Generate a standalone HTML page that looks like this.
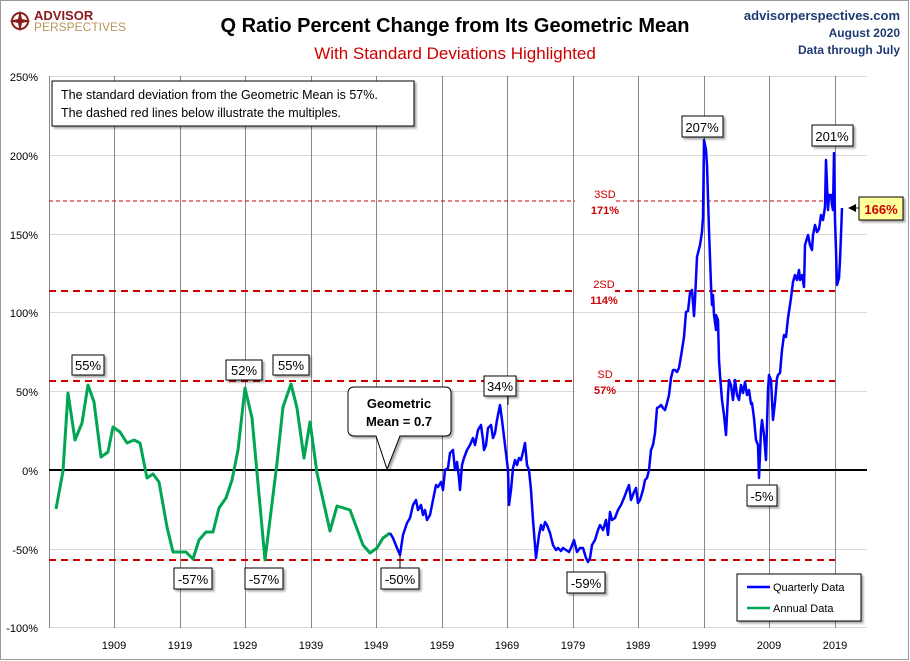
<!DOCTYPE html>
<html><head><meta charset="utf-8"><style>
body{margin:0;background:#fff;}
svg{display:block;font-family:"Liberation Sans",sans-serif;}
</style></head><body>
<svg width="910" height="661" viewBox="0 0 910 661">
<defs><filter id="sh" x="-20%" y="-20%" width="150%" height="150%"><feDropShadow dx="2" dy="2" stdDeviation="1" flood-color="#000" flood-opacity="0.35"/></filter></defs>
<rect x="0.5" y="0.5" width="908" height="659" fill="#fff" stroke="#999"/>
<circle cx="20" cy="21" r="8" fill="none" stroke="#8b1a1a" stroke-width="2"/>
<path d="M20 10 L22 19 L31 21 L22 23 L20 32 L18 23 L9 21 L18 19Z" fill="#8b1a1a"/>
<text x="34" y="20" font-size="13" font-weight="bold" fill="#8b1a1a">ADVISOR</text>
<text x="34" y="31" font-size="12" fill="#b8985a">PERSPECTIVES</text>
<text x="455" y="32" font-size="20" font-weight="bold" text-anchor="middle" fill="#000">Q Ratio Percent Change from Its Geometric Mean</text>
<text x="455" y="59" font-size="17" text-anchor="middle" fill="#d00000">With Standard Deviations Highlighted</text>
<text x="900" y="20" font-size="13" font-weight="bold" text-anchor="end" fill="#1f3b73">advisorperspectives.com</text>
<text x="900" y="37" font-size="12" font-weight="bold" text-anchor="end" fill="#1f3b73">August 2020</text>
<text x="900" y="54" font-size="12" font-weight="bold" text-anchor="end" fill="#1f3b73">Data through July</text>
<g stroke="#d9d9d9" stroke-width="1">
<line x1="49" x2="867" y1="76.5" y2="76.5"/><line x1="49" x2="867" y1="155.5" y2="155.5"/><line x1="49" x2="867" y1="234.5" y2="234.5"/><line x1="49" x2="867" y1="312.5" y2="312.5"/><line x1="49" x2="867" y1="391.5" y2="391.5"/><line x1="49" x2="867" y1="549.5" y2="549.5"/><line x1="49" x2="867" y1="627.5" y2="627.5"/>
</g>
<g stroke="#888" stroke-width="1">
<line x1="114.5" x2="114.5" y1="76" y2="628"/><line x1="180.5" x2="180.5" y1="76" y2="628"/><line x1="245.5" x2="245.5" y1="76" y2="628"/><line x1="311.5" x2="311.5" y1="76" y2="628"/><line x1="376.5" x2="376.5" y1="76" y2="628"/><line x1="442.5" x2="442.5" y1="76" y2="628"/><line x1="507.5" x2="507.5" y1="76" y2="628"/><line x1="573.5" x2="573.5" y1="76" y2="628"/><line x1="638.5" x2="638.5" y1="76" y2="628"/><line x1="704.5" x2="704.5" y1="76" y2="628"/><line x1="769.5" x2="769.5" y1="76" y2="628"/><line x1="835.5" x2="835.5" y1="76" y2="628"/>
<line x1="49.5" x2="49.5" y1="76" y2="628"/>
</g>
<g font-size="11" fill="#000" text-anchor="end">
<text x="38" y="81">250%</text><text x="38" y="160">200%</text><text x="38" y="239">150%</text><text x="38" y="317">100%</text><text x="38" y="396">50%</text><text x="38" y="475">0%</text><text x="38" y="554">-50%</text><text x="38" y="632">-100%</text>
</g>
<g font-size="11" fill="#000" text-anchor="middle">
<text x="114" y="649">1909</text><text x="180" y="649">1919</text><text x="245" y="649">1929</text><text x="311" y="649">1939</text><text x="376" y="649">1949</text><text x="442" y="649">1959</text><text x="507" y="649">1969</text><text x="573" y="649">1979</text><text x="638" y="649">1989</text><text x="704" y="649">1999</text><text x="769" y="649">2009</text><text x="835" y="649">2019</text>
</g>
<g stroke="#cc0000" stroke-width="2" stroke-dasharray="7,5">
<line x1="49" x2="835" y1="201" y2="201" stroke-width="1" stroke-dasharray="4,3"/>
<line x1="49" x2="835" y1="291" y2="291"/>
<line x1="49" x2="835" y1="381" y2="381"/>
<line x1="49" x2="835" y1="560" y2="560"/>
</g>
<g fill="#fff"><rect x="575" y="186" width="40" height="32"/><rect x="575" y="276" width="40" height="32"/><rect x="575" y="366" width="40" height="32"/></g>
<g font-size="11" fill="#cc0000" text-anchor="middle" font-weight="bold">
<text x="605" y="198" font-weight="normal">3SD</text><text x="605" y="214">171%</text>
<text x="604" y="288" font-weight="normal">2SD</text><text x="604" y="304">114%</text>
<text x="605" y="378" font-weight="normal">SD</text><text x="605" y="394">57%</text>
</g>
<line x1="49" x2="867" y1="470" y2="470" stroke="#000" stroke-width="2"/>
<polyline fill="none" stroke="#00a651" stroke-width="3" stroke-linejoin="round" points="56,509 63,471 68,393 75,440 82,423 88,385 94,402 101,457 108,452 113,427 120,432 127,443 134,440 140,443 147,478 153,474 159,482 167,527 173,552 186,552 193,559 199,540 206,532 213,532 219,508 226,498 232,480 238,450 245,388 252,418 265,560 277,463 283,407 291,384 297,408 304,458 310,422 317,473 330,531 337,506 350,510 363,545 370,553 377,548 383,538 390,533"/>
<polyline fill="none" stroke="#0000ff" stroke-width="2.5" stroke-linejoin="round" points="390,533 393,538 397,548 400,555 403,535 407,523 410,518 413,505 416,500 418,510 421,505 423,515 425,510 427,520 430,515 433,500 436,485 438,487 441,482 443,490 445,470 448,468 450,453 453,450 455,470 457,462 459,478 460,490 462,465 464,458 467,450 470,445 473,438 475,445 478,430 481,425 483,440 484,450 486,445 488,428 491,425 493,438 495,433 497,420 500,405 502,420 505,445 508,470 509,505 511,490 513,468 515,460 517,465 519,458 521,460 523,452 525,443 527,465 529,470 531,490 533,520 536,558 539,535 541,525 543,530 545,522 547,525 550,533 553,545 556,550 558,548 561,551 563,548 566,550 569,552 571,548 574,540 577,552 580,548 583,548 586,558 588,562 590,558 592,545 595,540 598,530 600,525 603,530 606,520 608,535 610,512 612,520 615,518 618,510 621,505 624,498 627,490 629,485 631,500 634,492 636,488 638,503 640,500 643,490 645,480 647,478 649,470 651,450 653,445 655,433 657,408 659,407 661,405 663,408 665,410 667,403 669,395 671,378 673,370 675,370 677,372 679,368 682,350 684,337 686,312 688,311 690,293 692,290 694,316 695,300 697,257 700,245 702,232 703,217 704,140 706,150 707,165 709,230 711,285 712,305 713,295 714,315 716,330 716,315 718,320 719,360 720,375 722,400 724,415 726,435 728,395 729,380 731,385 733,400 735,380 737,395 739,400 741,385 743,393 745,382 747,395 749,390 751,404 752,403 754,418 756,440 758,445 759,478 761,430 762,420 764,435 766,460 768,390 769,375 771,380 773,420 775,402 777,378 778,375 780,373 782,350 784,335 786,337 788,318 790,305 791,298 793,282 795,275 797,280 799,270 800,280 802,275 804,287 805,245 808,235 810,245 812,250 813,235 815,225 817,232 819,229 821,215 823,220 825,207 826,160 828,210 829,195 831,195 832,205 833,210 834,153 835,220 836,250 837,285 839,278 840,260 841,235 842,208"/>
<g font-size="13" fill="#000" text-anchor="middle">
<rect x="72" y="355" width="32" height="20" fill="#fff" stroke="#000" filter="url(#sh)"/><text x="88" y="370">55%</text>
<rect x="226" y="360" width="36" height="20" fill="#fff" stroke="#000" filter="url(#sh)"/><text x="244" y="375">52%</text>
<rect x="273" y="355" width="36" height="20" fill="#fff" stroke="#000" filter="url(#sh)"/><text x="291" y="370">55%</text>
<rect x="174" y="568" width="38" height="21" fill="#fff" stroke="#000" filter="url(#sh)"/><text x="193" y="584">-57%</text>
<rect x="245" y="568" width="38" height="21" fill="#fff" stroke="#000" filter="url(#sh)"/><text x="264" y="584">-57%</text>
<rect x="381" y="568" width="38" height="21" fill="#fff" stroke="#000" filter="url(#sh)"/><text x="400" y="584">-50%</text>
<rect x="484" y="376" width="32" height="20" fill="#fff" stroke="#000" filter="url(#sh)"/><text x="500" y="391">34%</text>
<rect x="567" y="572" width="38" height="21" fill="#fff" stroke="#000" filter="url(#sh)"/><text x="586" y="588">-59%</text>
<rect x="682" y="116" width="41" height="21" fill="#fff" stroke="#000" filter="url(#sh)"/><text x="702" y="132">207%</text>
<rect x="812" y="125" width="41" height="21" fill="#fff" stroke="#000" filter="url(#sh)"/><text x="832" y="141">201%</text>
<rect x="747" y="485" width="30" height="21" fill="#fff" stroke="#000" filter="url(#sh)"/><text x="762" y="501">-5%</text>
</g>
<line x1="400" y1="555" x2="400" y2="568" stroke="#000"/>
<line x1="508" y1="396" x2="508" y2="405" stroke="#000"/>
<line x1="850" y1="208" x2="862" y2="208" stroke="#000"/><path d="M848 208 L856 204 L856 212Z" fill="#000"/>
<rect x="859" y="197" width="44" height="23" fill="#ffff99" stroke="#000" filter="url(#sh)"/>
<text x="881" y="214" font-size="13" font-weight="bold" fill="#cc0000" text-anchor="middle">166%</text>
<rect x="52" y="81" width="362" height="45" fill="#fff" stroke="#000" filter="url(#sh)"/>
<text x="61" y="99" font-size="12.5">The standard deviation from the Geometric Mean is 57%.</text>
<text x="61" y="117" font-size="12.5">The dashed red lines below illustrate the multiples.</text>
<path d="M355 387 L445 387 Q451 387 451 393 L451 430 Q451 436 445 436 L400 436 L387 469 L376 436 L355 436 Q348 436 348 430 L348 393 Q348 387 355 387Z" fill="#fff" stroke="#000" filter="url(#sh)"/>
<text x="399" y="408" font-size="13" font-weight="bold" text-anchor="middle">Geometric</text>
<text x="399" y="426" font-size="13" font-weight="bold" text-anchor="middle">Mean = 0.7</text>
<rect x="737" y="574" width="124" height="47" fill="#fff" stroke="#000" filter="url(#sh)"/>
<line x1="747" y1="587" x2="770" y2="587" stroke="#0000ff" stroke-width="2.5"/>
<text x="773" y="591" font-size="11">Quarterly Data</text>
<line x1="747" y1="608" x2="770" y2="608" stroke="#00a651" stroke-width="2.5"/>
<text x="773" y="612" font-size="11">Annual Data</text>
</svg>
</body></html>
